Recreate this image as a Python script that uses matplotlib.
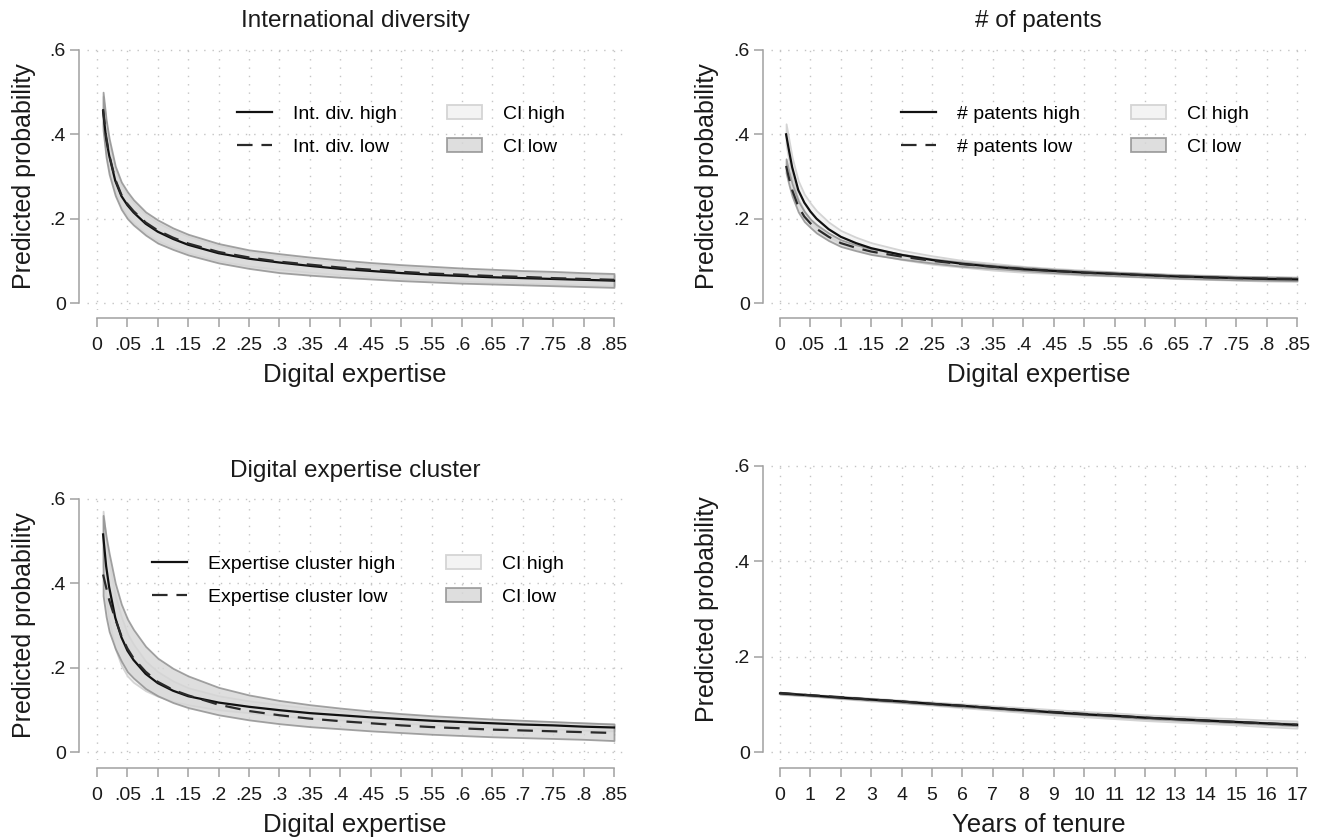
import matplotlib
matplotlib.use("Agg")
import matplotlib.pyplot as plt

plt.rcParams['font.family'] = ['Liberation Sans', 'DejaVu Sans']

W, H = 1322, 838

# x values (digital expertise) shared by the first three panels
de_x = [0.01, 0.015, 0.02, 0.03, 0.04, 0.05, 0.06, 0.08, 0.1, 0.125, 0.15, 0.2, 0.25,
        0.3, 0.35, 0.4, 0.45, 0.5, 0.55, 0.6, 0.65, 0.7, 0.75, 0.8, 0.85]
de_ticks = [0, .05, .1, .15, .2, .25, .3, .35, .4, .45, .5, .55, .6, .65, .7, .75, .8, .85]
de_ticklabels = ['0', '.05', '.1', '.15', '.2', '.25', '.3', '.35', '.4', '.45', '.5', '.55',
                 '.6', '.65', '.7', '.75', '.8', '.85']
y_ticks = [0, .2, .4, .6]
y_ticklabels = ['0', '.2', '.4', '.6']

# International diversity
intdiv_high = [0.455, 0.39, 0.35, 0.29, 0.254, 0.232, 0.215, 0.188, 0.169, 0.152, 0.138, 0.118, 0.105,
               0.096, 0.088, 0.081, 0.076, 0.071, 0.067, 0.064, 0.061, 0.059, 0.057, 0.055, 0.053]
intdiv_low = [0.46, 0.395, 0.352, 0.293, 0.257, 0.235, 0.218, 0.191, 0.172, 0.155, 0.141, 0.121, 0.108,
              0.098, 0.091, 0.084, 0.079, 0.074, 0.070, 0.067, 0.064, 0.062, 0.059, 0.057, 0.055]
intdiv_high_ub = [0.49, 0.425, 0.38, 0.318, 0.28, 0.256, 0.238, 0.21, 0.19, 0.172, 0.158, 0.136, 0.122,
                  0.112, 0.104, 0.097, 0.091, 0.086, 0.082, 0.078, 0.075, 0.073, 0.071, 0.069, 0.067]
intdiv_high_lb = [0.42, 0.355, 0.315, 0.262, 0.228, 0.207, 0.191, 0.166, 0.148, 0.132, 0.119, 0.1, 0.088,
                  0.08, 0.073, 0.067, 0.062, 0.058, 0.055, 0.052, 0.049, 0.047, 0.045, 0.043, 0.041]
intdiv_low_ub = [0.50, 0.435, 0.39, 0.325, 0.287, 0.264, 0.245, 0.216, 0.197, 0.178, 0.163, 0.141, 0.126,
                 0.117, 0.109, 0.102, 0.096, 0.091, 0.087, 0.083, 0.080, 0.077, 0.075, 0.072, 0.070]
intdiv_low_lb = [0.41, 0.345, 0.305, 0.255, 0.222, 0.200, 0.185, 0.161, 0.142, 0.127, 0.114, 0.095, 0.082,
                 0.072, 0.066, 0.061, 0.057, 0.053, 0.050, 0.047, 0.045, 0.043, 0.041, 0.039, 0.037]

# # of patents
pat_high = [0.40, 0.36, 0.322, 0.268, 0.238, 0.217, 0.200, 0.175, 0.157, 0.142, 0.130, 0.114, 0.102,
            0.093, 0.086, 0.080, 0.076, 0.072, 0.069, 0.066, 0.063, 0.061, 0.059, 0.057, 0.056]
pat_low = [0.325, 0.295, 0.268, 0.229, 0.205, 0.189, 0.176, 0.157, 0.142, 0.131, 0.122, 0.110, 0.100,
           0.092, 0.086, 0.081, 0.076, 0.072, 0.069, 0.066, 0.063, 0.061, 0.059, 0.058, 0.057]
pat_high_ub = [0.425, 0.385, 0.345, 0.29, 0.258, 0.237, 0.219, 0.192, 0.172, 0.156, 0.143, 0.125, 0.112,
               0.101, 0.094, 0.087, 0.082, 0.078, 0.074, 0.071, 0.068, 0.066, 0.064, 0.062, 0.061]
pat_high_lb = [0.375, 0.335, 0.30, 0.247, 0.218, 0.197, 0.181, 0.158, 0.142, 0.128, 0.117, 0.103, 0.092,
               0.085, 0.078, 0.073, 0.070, 0.066, 0.064, 0.061, 0.058, 0.056, 0.054, 0.052, 0.051]
pat_low_ub = [0.342, 0.311, 0.283, 0.242, 0.217, 0.199, 0.186, 0.166, 0.150, 0.138, 0.129, 0.116, 0.105,
              0.097, 0.090, 0.085, 0.080, 0.076, 0.073, 0.070, 0.067, 0.065, 0.063, 0.062, 0.061]
pat_low_lb = [0.308, 0.279, 0.253, 0.216, 0.193, 0.179, 0.166, 0.148, 0.134, 0.124, 0.115, 0.104, 0.095,
              0.087, 0.082, 0.077, 0.072, 0.068, 0.065, 0.062, 0.059, 0.057, 0.055, 0.054, 0.053]

# Digital expertise cluster
clu_high = [0.515, 0.44, 0.39, 0.318, 0.272, 0.240, 0.218, 0.185, 0.163, 0.145, 0.132, 0.117, 0.107,
            0.099, 0.092, 0.087, 0.082, 0.078, 0.074, 0.071, 0.068, 0.065, 0.063, 0.060, 0.058]
clu_low = [0.42, 0.39, 0.36, 0.315, 0.275, 0.245, 0.222, 0.19, 0.166, 0.147, 0.134, 0.112, 0.097,
           0.087, 0.079, 0.073, 0.068, 0.063, 0.059, 0.056, 0.053, 0.051, 0.049, 0.047, 0.045]
clu_high_ub = [0.57, 0.50, 0.45, 0.37, 0.32, 0.28, 0.255, 0.215, 0.19, 0.168, 0.152, 0.133, 0.121,
               0.112, 0.104, 0.098, 0.093, 0.088, 0.084, 0.080, 0.077, 0.074, 0.071, 0.069, 0.067]
clu_high_lb = [0.44, 0.36, 0.31, 0.245, 0.205, 0.18, 0.165, 0.145, 0.132, 0.12, 0.112, 0.100, 0.093,
               0.086, 0.080, 0.076, 0.072, 0.068, 0.065, 0.062, 0.059, 0.057, 0.055, 0.052, 0.050]
clu_low_ub = [0.56, 0.51, 0.47, 0.40, 0.35, 0.315, 0.29, 0.25, 0.222, 0.198, 0.18, 0.153, 0.135,
              0.122, 0.112, 0.104, 0.097, 0.091, 0.086, 0.082, 0.078, 0.075, 0.072, 0.069, 0.066]
clu_low_lb = [0.37, 0.32, 0.285, 0.245, 0.215, 0.19, 0.175, 0.15, 0.133, 0.117, 0.105, 0.088, 0.076,
              0.067, 0.060, 0.055, 0.050, 0.046, 0.042, 0.039, 0.036, 0.034, 0.032, 0.030, 0.027]

# Years of tenure
tenure_x = list(range(18))
tenure_high = [0.123, 0.119, 0.114, 0.110, 0.106, 0.101, 0.097, 0.092, 0.088, 0.083, 0.079, 0.076,
               0.072, 0.069, 0.066, 0.063, 0.060, 0.057]
tenure_low = [0.124, 0.119, 0.115, 0.110, 0.106, 0.101, 0.097, 0.092, 0.088, 0.084, 0.080, 0.076,
              0.072, 0.069, 0.066, 0.063, 0.060, 0.057]
tenure_high_ub = [0.125, 0.121, 0.117, 0.113, 0.109, 0.105, 0.101, 0.097, 0.093, 0.089, 0.085, 0.082,
                  0.078, 0.075, 0.072, 0.070, 0.067, 0.065]
tenure_high_lb = [0.121, 0.117, 0.112, 0.107, 0.103, 0.098, 0.093, 0.088, 0.083, 0.078, 0.074, 0.070,
                  0.066, 0.063, 0.060, 0.057, 0.053, 0.050]
tenure_low_ub = [0.125, 0.120, 0.116, 0.112, 0.107, 0.103, 0.098, 0.094, 0.089, 0.085, 0.081, 0.078,
                 0.074, 0.071, 0.068, 0.065, 0.062, 0.060]
tenure_low_lb = [0.122, 0.118, 0.113, 0.109, 0.104, 0.100, 0.095, 0.091, 0.086, 0.082, 0.078, 0.074,
                 0.070, 0.067, 0.064, 0.061, 0.058, 0.055]

GRID = '#c4c4c4'
AXC = '#a0a0a0'
TXT = '#1a1a1a'
PX = 72 / 100  # points per pixel


def make_axes(fig, left, right, top, bottom, x0px, x1px, xmax, y0px, y6px):
    # place an axes so that data values land on the given pixel positions
    ax = fig.add_axes([left / W, 1 - bottom / H, (right - left) / W, (bottom - top) / H])
    sx = (x1px - x0px) / xmax
    sy = (y0px - y6px) / 0.6
    ax.set_xlim((left - x0px) / sx, (right - x0px) / sx)
    ax.set_ylim((y0px - bottom) / sy, (y0px - top) / sy)
    for s in ['top', 'right']:
        ax.spines[s].set_visible(False)
    ax.spines['left'].set_position(('outward', 8 * PX))
    ax.spines['bottom'].set_position(('outward', 8 * PX))
    ax.spines['left'].set_bounds(0, 0.6)
    ax.spines['bottom'].set_bounds(0, xmax)
    for s in ['left', 'bottom']:
        ax.spines[s].set_color(AXC)
        ax.spines[s].set_linewidth(1.1)
    ax.tick_params(axis='both', colors=AXC, length=6.5, width=1.1, labelcolor=TXT,
                   labelsize=14)
    ax.tick_params(axis='y', pad=3)
    ax.tick_params(axis='x', pad=7.5)
    ax.set_yticks(y_ticks)
    ax.set_yticklabels(y_ticklabels)
    ax.grid(True, color=GRID, linestyle=(0, (1, 5)), linewidth=1.0)
    ax.set_axisbelow(True)
    ax.set_ylabel('Predicted probability', fontsize=18, color=TXT)
    ax.yaxis.set_label_coords((x0px - 61) / W, 1 - (y0px + y6px) / 2 / H, transform=fig.transFigure)
    return ax


def draw(ax, x, hi, lo, hi_ub, hi_lb, lo_ub, lo_lb):
    ci_h = ax.fill_between(x, hi_lb, hi_ub, facecolor='#f3f3f3', edgecolor='#d4d4d4',
                           linewidth=1.3, zorder=2)
    ci_l = ax.fill_between(x, lo_lb, lo_ub, facecolor='#d6d6d6', edgecolor='#8c8c8c',
                           linewidth=1.3, alpha=0.8, zorder=3)
    l_h, = ax.plot(x, hi, color='#111111', linewidth=1.6, zorder=4)
    l_l, = ax.plot(x, lo, color='#2a2a2a', linewidth=1.6, dashes=(7, 4), zorder=5)
    return l_h, l_l, ci_h, ci_l


def add_legend(ax, handles, labels, xpx, ypx):
    ax.legend(handles, labels, ncol=2, loc='upper left', frameon=False, fontsize=14,
              bbox_to_anchor=(xpx / W, 1 - ypx / H), bbox_transform=ax.figure.transFigure,
              borderaxespad=0, borderpad=0, handlelength=1.8, handleheight=0.7,
              handletextpad=1.08, columnspacing=2.6, labelspacing=0.8)


fig = plt.figure(figsize=(W / 100, H / 100), dpi=100)

# top-left
ax1 = make_axes(fig, 87, 623, 46, 310, 97, 614, 0.85, 303, 50)
ax1.set_xticks(de_ticks)
ax1.set_xticklabels(de_ticklabels)
h = draw(ax1, de_x, intdiv_high, intdiv_low, intdiv_high_ub, intdiv_high_lb, intdiv_low_ub, intdiv_low_lb)
add_legend(ax1, h, ['Int. div. high', 'Int. div. low', 'CI high', 'CI low'], 237, 105)
ax1.set_title('International diversity', fontsize=17.5, pad=13.5, color=TXT)
ax1.set_xlabel('Digital expertise', fontsize=18.5, labelpad=6.5, color=TXT)

# top-right
ax2 = make_axes(fig, 771, 1306, 46, 310, 780, 1297, 0.85, 303, 50)
ax2.set_xticks(de_ticks)
ax2.set_xticklabels(de_ticklabels)
h = draw(ax2, de_x, pat_high, pat_low, pat_high_ub, pat_high_lb, pat_low_ub, pat_low_lb)
add_legend(ax2, h, ['# patents high', '# patents low', 'CI high', 'CI low'], 901, 105)
ax2.set_title('# of patents', fontsize=17.5, pad=13.5, color=TXT)
ax2.set_xlabel('Digital expertise', fontsize=18.5, labelpad=6.5, color=TXT)

# bottom-left
ax3 = make_axes(fig, 87, 623, 494, 760, 97, 614, 0.85, 752, 498.5)
ax3.set_xticks(de_ticks)
ax3.set_xticklabels(de_ticklabels)
h = draw(ax3, de_x, clu_high, clu_low, clu_high_ub, clu_high_lb, clu_low_ub, clu_low_lb)
add_legend(ax3, h, ['Expertise cluster high', 'Expertise cluster low', 'CI high', 'CI low'], 152, 555)
ax3.set_title('Digital expertise cluster', fontsize=17.5, pad=12, color=TXT)
ax3.set_xlabel('Digital expertise', fontsize=18.5, labelpad=6.5, color=TXT)

# bottom-right
ax4 = make_axes(fig, 771, 1306, 461, 760, 780, 1297, 17, 752, 466)
ax4.set_xticks(tenure_x)
draw(ax4, tenure_x, tenure_high, tenure_low, tenure_high_ub, tenure_high_lb, tenure_low_ub, tenure_low_lb)
ax4.set_xlabel('Years of tenure', fontsize=18.5, labelpad=6.5, color=TXT)

fig.savefig('out.png', dpi=100, facecolor='white')
